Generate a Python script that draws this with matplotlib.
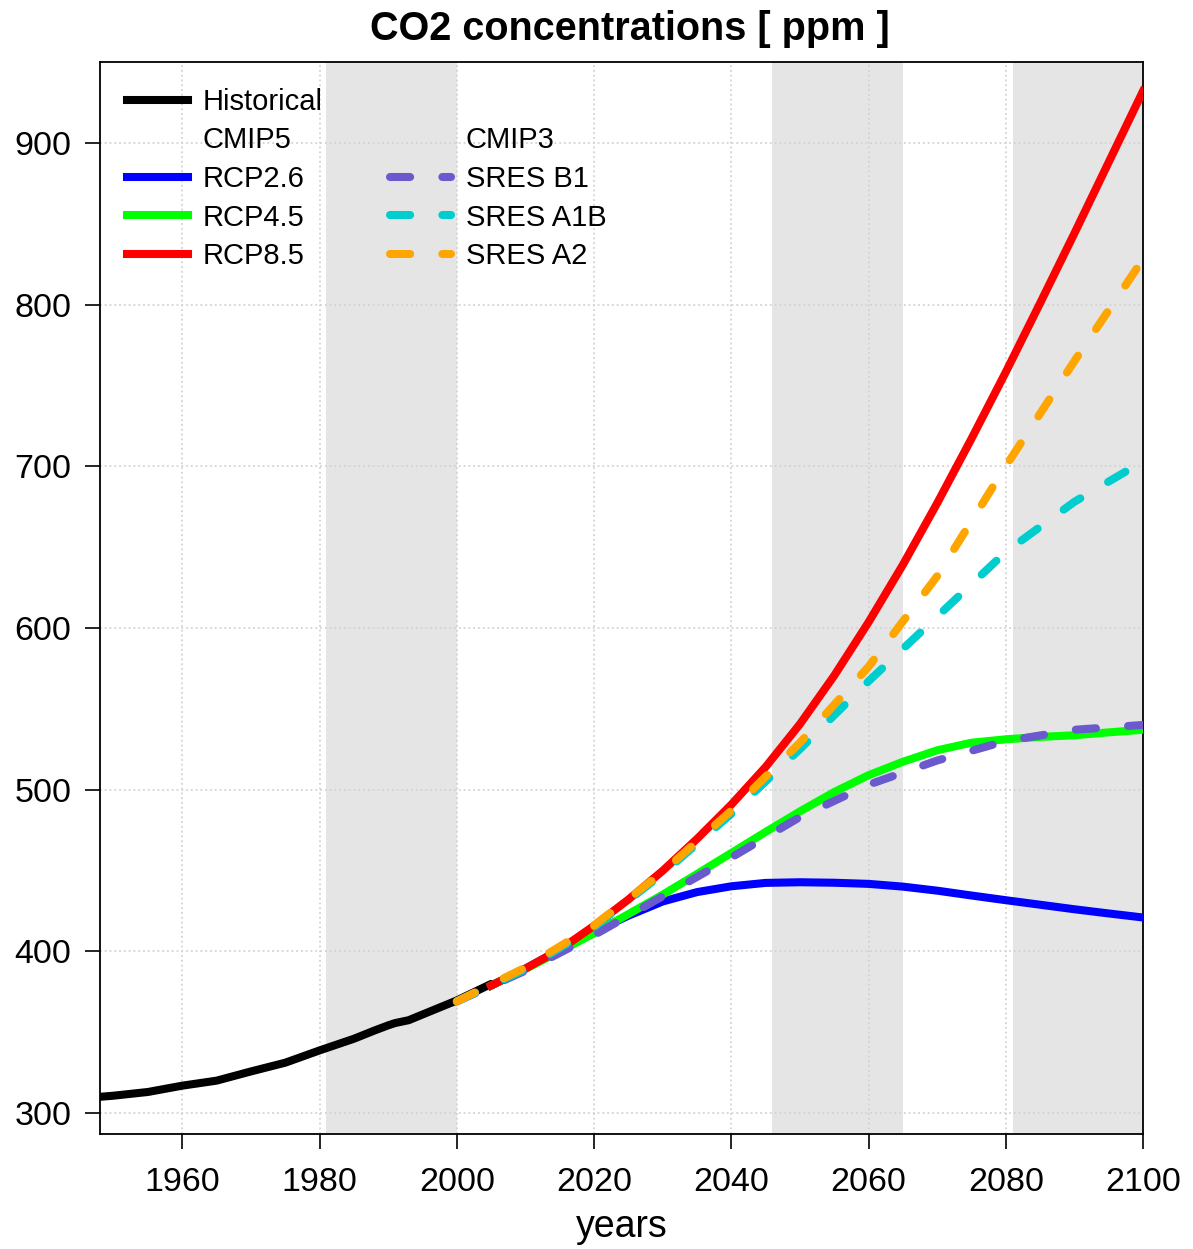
import numpy as np
import matplotlib
matplotlib.use('Agg')
import matplotlib.pyplot as plt
from matplotlib.lines import Line2D

plt.rcParams['font.family'] = ['Liberation Sans', 'DejaVu Sans']

# historical CO2 (ppm)
hist_years = [1948, 1950, 1955, 1960, 1965, 1970, 1975, 1980, 1985, 1988, 1990, 1991, 1993, 1995, 2000, 2005]
hist_co2 = [310.0, 310.7, 313.0, 316.9, 320.0, 325.7, 331.1, 338.7, 345.9, 351.0, 354.2, 355.6, 357.4, 360.9, 369.6, 379.8]

# CMIP5 RCPs, 5-year steps from 2005
rcp_years = list(range(2005, 2101, 5))
rcp26 = [378.8, 389.3, 400.9, 412.1, 422.0, 430.8, 436.6, 440.2, 442.3, 442.7,
         442.4, 441.7, 440.0, 437.5, 434.5, 431.6, 428.8, 426.0, 423.4, 420.9]
rcp45 = [378.8, 389.1, 399.9, 411.1, 423.0, 435.0, 447.8, 460.8, 473.8, 486.5,
         498.5, 508.9, 517.2, 524.3, 529.0, 531.1, 532.6, 533.6, 535.4, 537.0]
rcp85 = [378.8, 389.3, 401.0, 415.8, 432.0, 449.8, 469.5, 490.7, 514.0, 540.5,
         570.5, 603.5, 639.0, 677.1, 717.0, 758.2, 800.8, 844.0, 888.0, 932.0]

# CMIP3 SRES, 10-year steps from 2000
sres_years = list(range(2000, 2101, 10))
sres_b1 = [369, 388, 410, 434, 458, 483, 503, 518, 530, 537, 540]
sres_a1b = [369, 389, 415, 448, 485, 525, 567, 607, 647, 678, 703]
sres_a2 = [369, 390, 416, 449, 487, 529, 576, 632, 700, 765, 828]

# shaded periods
periods = [(1981, 2000), (2046, 2065), (2081, 2100)]

fig = plt.figure(figsize=(11.93, 12.49), dpi=100)
ax = fig.add_axes([100/1193, 1 - 1134/1249, 1043/1193, 1072/1249])

for a, b in periods:
    ax.axvspan(a, b, color='#e5e5e5', lw=0, zorder=0)

ax.grid(True, color='#d3d3d3', linestyle=':', linewidth=1.3, zorder=0.5)
ax.set_axisbelow(True)

lw = 5.8
dash = (0, (2.5, 4.0))
ax.plot(hist_years, hist_co2, color='black', lw=lw, solid_capstyle='round', zorder=3)
ax.plot(rcp_years, rcp26, color='#0000ff', lw=lw, zorder=3)
ax.plot(rcp_years, rcp45, color='#00ff00', lw=lw, zorder=3)
ax.plot(rcp_years, rcp85, color='#ff0000', lw=lw, zorder=3)
ax.plot(sres_years, sres_b1, color='#6a5acd', lw=lw, ls=dash, dash_capstyle='round', zorder=4)
ax.plot(sres_years, sres_a1b, color='#00cdcd', lw=lw, ls=dash, dash_capstyle='round', zorder=4)
ax.plot(sres_years, sres_a2, color='#ffa500', lw=lw, ls=dash, dash_capstyle='round', zorder=4)

ax.set_xlim(1948, 2100)
ax.set_ylim(287, 950)
ax.set_xticks(range(1960, 2101, 20))
ax.set_yticks(range(300, 901, 100))
ax.tick_params(direction='out', length=10.5, width=1.2, labelsize=24.5, pad=10)
ax.tick_params(axis='x', pad=13.5)
for s in ax.spines.values():
    s.set_linewidth(1.3)

ax.set_title('CO2 concentrations [ ppm ]', fontsize=28.5, fontweight='bold', pad=16, x=0.508)
ax.set_xlabel('years', fontsize=27, labelpad=8)

blank = Line2D([], [], color='none')
handles = [
    Line2D([], [], color='black', lw=lw),
    blank,
    Line2D([], [], color='#0000ff', lw=lw),
    Line2D([], [], color='#00ff00', lw=lw),
    Line2D([], [], color='#ff0000', lw=lw),
    blank,
    blank,
    Line2D([], [], color='#6a5acd', lw=lw, ls=dash, dash_capstyle='round'),
    Line2D([], [], color='#00cdcd', lw=lw, ls=dash, dash_capstyle='round'),
    Line2D([], [], color='#ffa500', lw=lw, ls=dash, dash_capstyle='round'),
]
labels = ['Historical', 'CMIP5', 'RCP2.6', 'RCP4.5', 'RCP8.5',
          '', 'CMIP3', 'SRES B1', 'SRES A1B', 'SRES A2']
ax.legend(handles, labels, ncol=2, loc='upper left', bbox_to_anchor=(27/1043, 1 - 26/1072),
          frameon=False, fontsize=21, handlelength=2.1, handletextpad=0.5,
          columnspacing=2.3, labelspacing=0.36, borderpad=0, borderaxespad=0)

fig.savefig('out.png', dpi=100)
